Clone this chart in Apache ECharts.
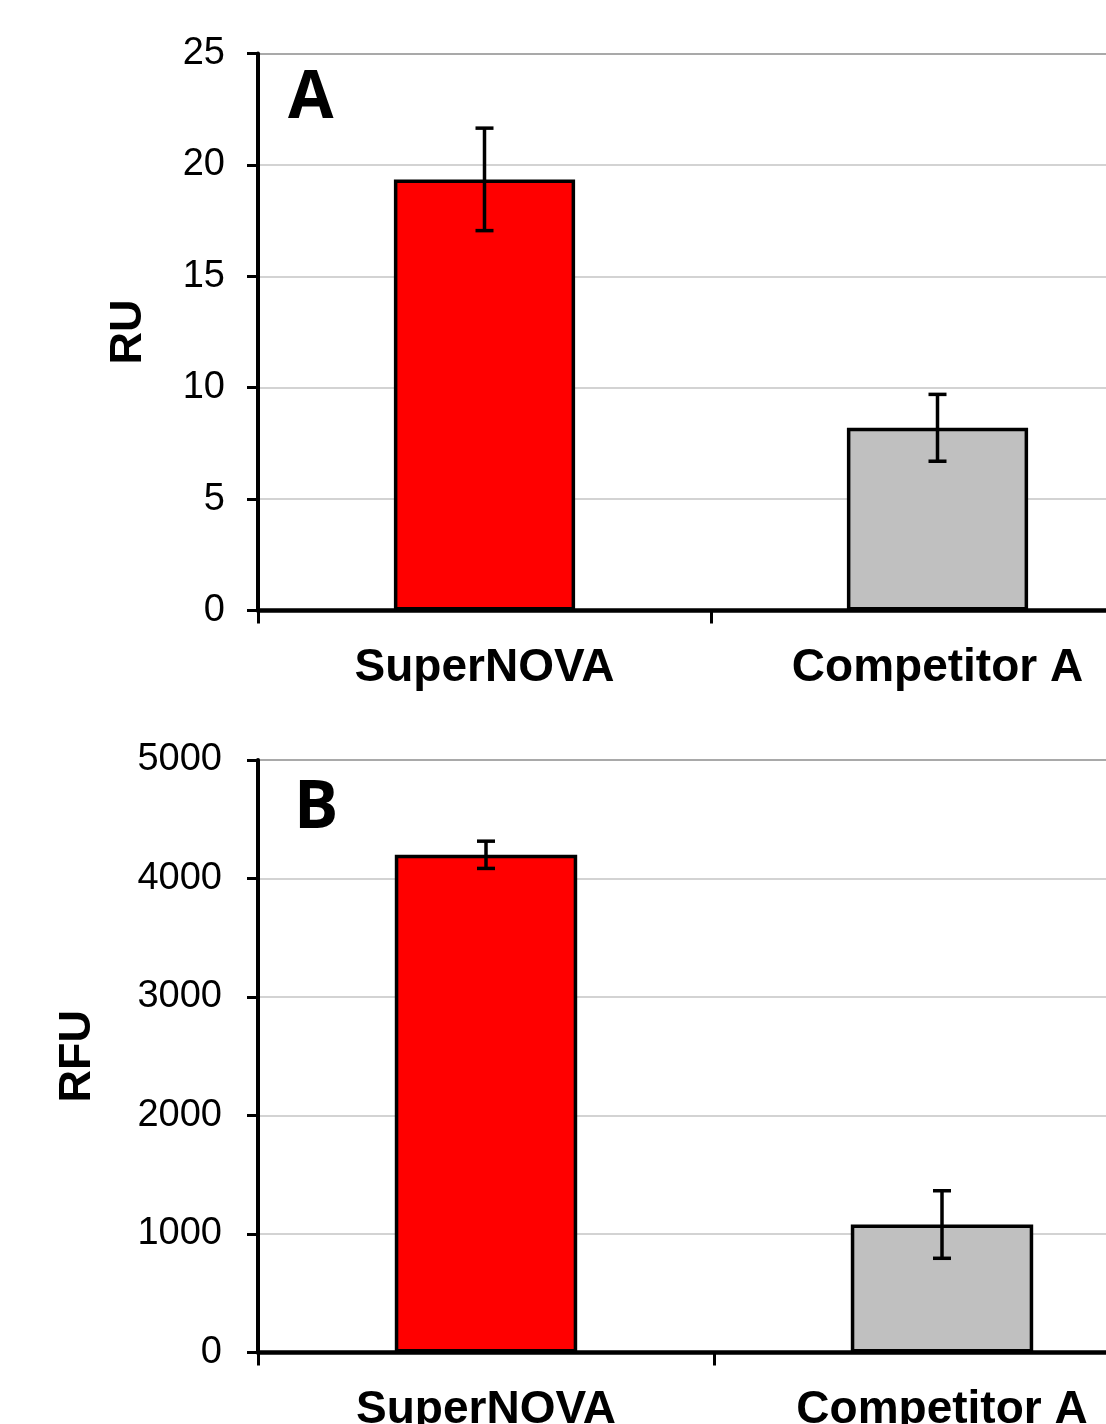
<!DOCTYPE html>
<html><head><meta charset="utf-8">
<script src="https://cdn.jsdelivr.net/npm/echarts@6/dist/echarts.min.js"></script>
<style>html,body{margin:0;padding:0;background:#fff;overflow:hidden;width:1106px;height:1424px}#c{width:1200px;height:1424px}</style>
</head><body><div id="c"></div>
<script>
const categories = ['SuperNOVA', 'Competitor A'];
const ruMean = [19.35, 8.2];
const ruErr = [2.3, 1.5];
const rfuMean = [4200, 1080];
const rfuErr = [115, 285];
const barColors = ['#ff0000', '#c0c0c0'];

const chart = echarts.init(document.getElementById('c'), null, {renderer: 'canvas'});
const FONT = '"Liberation Sans", Arial, sans-serif';

function errData(mean, err) {
  return mean.map((m, i) => [i, m - err[i], m + err[i]]);
}
function renderErr(params, api) {
  const x = api.value(0), lo = api.value(1), hi = api.value(2);
  const t = api.coord([x, hi]), b = api.coord([x, lo]);
  const hw = 9, st = {stroke: '#000', lineWidth: 3.5};
  return {type: 'group', children: [
    {type: 'line', shape: {x1: t[0], y1: t[1], x2: b[0], y2: b[1]}, style: st},
    {type: 'line', shape: {x1: t[0] - hw, y1: t[1], x2: t[0] + hw, y2: t[1]}, style: st},
    {type: 'line', shape: {x1: b[0] - hw, y1: b[1], x2: b[0] + hw, y2: b[1]}, style: st}
  ]};
}
function barData(vals) {
  return vals.map((v, i) => ({value: v, itemStyle: {color: barColors[i]}}));
}
function xAxis(gridIndex) {
  return {
    type: 'category', gridIndex, data: categories,
    axisLine: {show: true, lineStyle: {color: '#000', width: 4.5}},
    axisTick: {show: true, length: 13, lineStyle: {color: '#000', width: 3}},
    axisLabel: {color: '#000', fontFamily: FONT, fontWeight: 'bold', fontSize: 46, margin: 35},
    splitLine: {show: false}
  };
}
function yAxis(gridIndex, name, max, interval, nameGap, labelMargin) {
  return {
    type: 'value', gridIndex, min: 0, max, interval,
    name, nameLocation: 'middle', nameGap, nameRotate: 90,
    nameTextStyle: {color: '#000', fontFamily: FONT, fontWeight: 'bold', fontSize: 45},
    axisLine: {show: true, lineStyle: {color: '#000', width: 4}},
    axisTick: {show: true, length: 11, lineStyle: {color: '#000', width: 3}},
    axisLabel: {color: '#000', fontFamily: FONT, fontSize: 38, margin: labelMargin, formatter: v => String(v)},
    splitLine: {show: true, lineStyle: {color: ['#c4c4c4', '#c4c4c4', '#c4c4c4', '#c4c4c4', '#c4c4c4', '#8c8c8c'], width: 1.5}}
  };
}

const option = {
  backgroundColor: '#fff',
  animation: false,
  grid: [
    {left: 258, width: 906, top: 53.5, bottom: 813.5, outerBoundsMode: 'none', containLabel: false},
    {left: 258, width: 912, top: 760, bottom: 71.5, outerBoundsMode: 'none', containLabel: false}
  ],
  xAxis: [xAxis(0), xAxis(1)],
  yAxis: [yAxis(0, 'RU', 25, 5, 107, 33), yAxis(1, 'RFU', 5000, 1000, 158, 36)],
  graphic: [
    {type: 'text', left: 288, top: 66, style: {text: 'A', font: 'bold 66px "Open Sans", sans-serif', fill: '#000'}},
    {type: 'text', left: 294, top: 776, style: {text: 'B', font: 'bold 66px "Open Sans", sans-serif', fill: '#000'}}
  ],
  series: [
    {type: 'bar', xAxisIndex: 0, yAxisIndex: 0, barWidth: '40%', data: barData(ruMean),
     itemStyle: {borderColor: '#000', borderWidth: 3.5}},
    {type: 'custom', xAxisIndex: 0, yAxisIndex: 0, data: errData(ruMean, ruErr), renderItem: renderErr, z: 5},
    {type: 'bar', xAxisIndex: 1, yAxisIndex: 1, barWidth: '40%', data: barData(rfuMean),
     itemStyle: {borderColor: '#000', borderWidth: 3.5}},
    {type: 'custom', xAxisIndex: 1, yAxisIndex: 1, data: errData(rfuMean, rfuErr), renderItem: renderErr, z: 5}
  ]
};
chart.setOption(option);
</script></body></html>
